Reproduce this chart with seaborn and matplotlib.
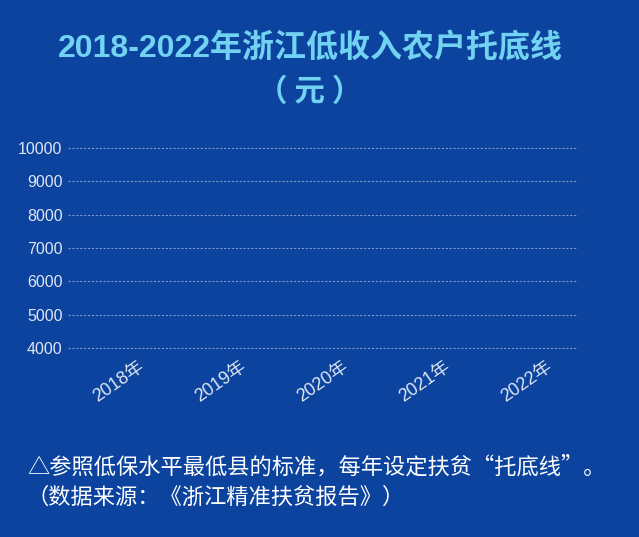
import numpy as np
import pandas as pd
import matplotlib
matplotlib.use("Agg")
import matplotlib.pyplot as plt
import seaborn as sns

# ---- data (the reference frame shows an empty axis: no bar values visible) ----
years = ["2018年", "2019年", "2020年", "2021年", "2022年"]
values = [np.nan, np.nan, np.nan, np.nan, np.nan]
y_ticks = [4000, 5000, 6000, 7000, 8000, 9000, 10000]
title_line1 = "2018-2022年浙江低收入农户托底线"
title_line2 = "（ 元 ）"
note_line1 = "△参照低保水平最低县的标准，每年设定扶贫“托底线”。"
note_line2 = "（数据来源：《浙江精准扶贫报告》）"

BG = "#0b439e"
TITLE_C = "#72d2f2"
TXT_C = "#dfe6f3"

sns.set_theme(style="white")
plt.rcParams["font.family"] = ["Liberation Sans", "Noto Sans CJK SC", "DejaVu Sans"]

fig = plt.figure(figsize=(6.39, 5.37), dpi=100, facecolor=BG)
W, H = 639, 537
# axes: x 68..578 px, y 138..358 px (10000 at 148, 4000 at 348)
ax = fig.add_axes([68 / W, 1 - 358 / H, 510 / W, 220 / H])
ax.set_facecolor(BG)

df = pd.DataFrame({"year": years, "value": values})
sns.barplot(data=df, x="year", y="value", ax=ax, color="#4fc3f7")

ax.set_ylim(3700, 10300)
ax.set_yticks(y_ticks)
ax.set_yticklabels([str(v) for v in y_ticks], color=TXT_C, fontsize=11.5)
ax.set_xlabel("")
ax.set_ylabel("")
for lab in ax.get_xticklabels():
    lab.set_rotation(35)
    lab.set_ha("center")
    lab.set_color(TXT_C)
    lab.set_fontsize(13)
ax.tick_params(axis="both", length=0, pad=4)
ax.tick_params(axis="x", pad=0)
for s in ax.spines.values():
    s.set_visible(False)
ax.yaxis.grid(True, color="#c8d4ea", linestyle=(0, (2, 1.5)), linewidth=0.8, alpha=0.6)
ax.xaxis.grid(False)
ax.set_axisbelow(True)

fig.text(310 / W, 1 - 48 / H, title_line1, ha="center", va="center",
         color=TITLE_C, fontsize=23, fontweight="bold",
         family=["Liberation Sans", "Noto Sans CJK SC"])
fig.text(310 / W, 1 - 92 / H, title_line2, ha="center", va="center",
         color=TITLE_C, fontsize=22, fontweight="bold",
         family=["Noto Sans CJK SC"])
fig.text(27 / W, 1 - 467 / H, note_line1, ha="left", va="center",
         color="white", fontsize=16, family=["Noto Sans CJK SC", "DejaVu Sans"])
fig.text(27 / W, 1 - 497 / H, note_line2, ha="left", va="center",
         color="white", fontsize=16, family=["Noto Sans CJK SC", "DejaVu Sans"])

fig.savefig("out.png", dpi=100, facecolor=BG)
